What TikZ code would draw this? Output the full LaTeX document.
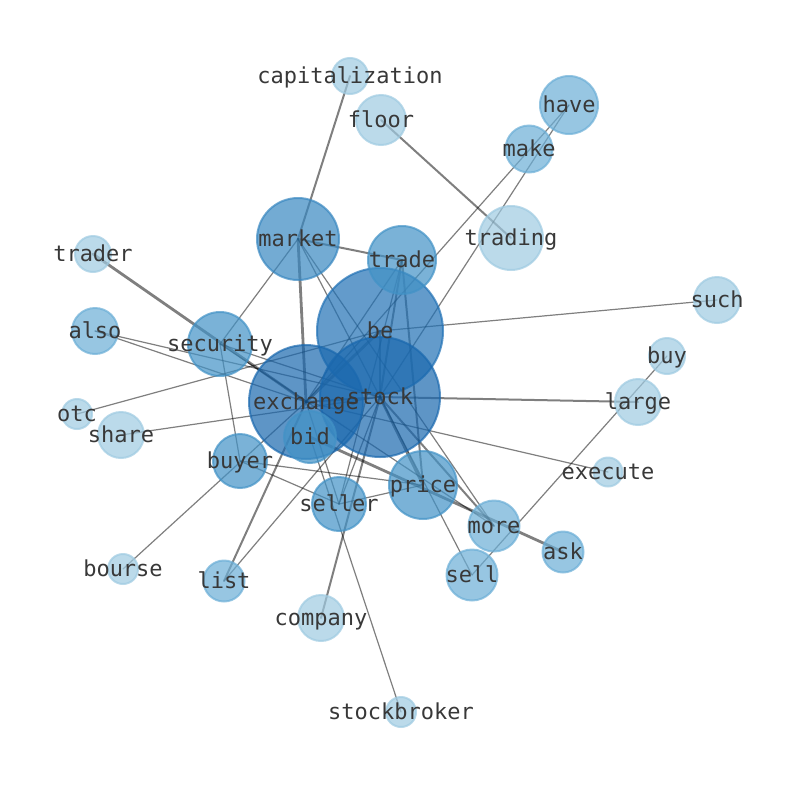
\documentclass[tikz,border=0pt]{standalone}
\usepackage{fontspec}
\newfontfamily\labelfont{DejaVu Sans Mono}
\definecolor{bLight}{HTML}{9ECAE1}
\definecolor{bMidL}{HTML}{6BAED6}
\definecolor{bMid}{HTML}{4292C6}
\definecolor{bMkt}{HTML}{3887C0}
\definecolor{bDark}{HTML}{2171B5}
\definecolor{bDeep}{HTML}{1A68AE}
\definecolor{labelgray}{HTML}{383838}
\begin{document}
\begin{tikzpicture}[x=1pt,y=-1pt,
  edge/.style={draw=black, draw opacity=0.5, line width=1.2pt, line cap=round},
  medge/.style={edge, line width=2pt},
  tedge/.style={edge, line width=2.8pt},
  vtx/.style={circle, inner sep=0pt, outer sep=0pt, fill=#1, fill opacity=0.7, draw=#1, draw opacity=0.7, line width=2pt},
  lbl/.style={font=\labelfont\fontsize{22}{26}\selectfont, text=labelgray, inner sep=0pt, text height=16.7pt, text depth=2.6pt}
]
\useasboundingbox (0,0) rectangle (794,790);
% positions
\coordinate (capitalization) at (350,76);
\coordinate (floor) at (381,120);
\coordinate (have) at (569,105);
\coordinate (make) at (529,149);
\coordinate (trading) at (511,238);
\coordinate (market) at (298,239);
\coordinate (trade) at (402,260);
\coordinate (trader) at (93,254);
\coordinate (be) at (380,331);
\coordinate (such) at (717,300);
\coordinate (also) at (95,331);
\coordinate (security) at (220,344);
\coordinate (buy) at (667,356);
\coordinate (stock) at (380,397);
\coordinate (exchange) at (306,402);
\coordinate (large) at (638,402);
\coordinate (otc) at (77,414);
\coordinate (share) at (121,435);
\coordinate (bid) at (310,437);
\coordinate (buyer) at (240,461);
\coordinate (execute) at (608,472);
\coordinate (price) at (423,485);
\coordinate (seller) at (339,504);
\coordinate (more) at (494,526);
\coordinate (ask) at (563,552);
\coordinate (bourse) at (123,569);
\coordinate (list) at (224,581);
\coordinate (sell) at (472,575);
\coordinate (company) at (321,618);
\coordinate (stockbroker) at (401,712);
% edges
\draw[medge] (capitalization) -- (market);
\draw[medge] (floor) -- (trading);
\draw[edge] (have) -- (exchange);
\draw[edge] (have) -- (stock);
\draw[medge] (market) -- (trade);
\draw[tedge] (market) -- (exchange);
\draw[edge] (market) -- (security);
\draw[edge] (market) -- (stock);
\draw[edge] (market) -- (more);
\draw[medge] (trade) -- (stock);
\draw[medge] (trade) -- (price);
\draw[edge] (trade) -- (seller);
\draw[edge] (trade) -- (exchange);
\draw[tedge] (trader) -- (exchange);
\draw[edge] (also) -- (stock);
\draw[edge] (also) -- (exchange);
\draw[edge] (otc) -- (be);
\draw[edge] (share) -- (stock);
\draw[edge] (such) -- (be);
\draw[edge] (security) -- (buyer);
\draw[edge] (security) -- (stock);
\draw[edge] (security) -- (more);
\draw[medge] (list) -- (exchange);
\draw[edge] (list) -- (stock);
\draw[edge] (bourse) -- (exchange);
\draw[edge] (buyer) -- (price);
\draw[edge] (buyer) -- (seller);
\draw[edge] (seller) -- (price);
\draw[edge] (exchange) -- (seller);
\draw[medge] (company) -- (stock);
\draw[edge] (stockbroker) -- (bid);
\draw[tedge] (bid) -- (ask);
\draw[tedge] (stock) -- (be);
\draw[tedge] (exchange) -- (be);
\draw[medge] (exchange) -- (stock);
\draw[edge] (exchange) -- (execute);
\draw[medge] (stock) -- (large);
\draw[tedge] (stock) -- (price);
\draw[medge] (stock) -- (more);
\draw[edge] (stock) -- (sell);
\draw[edge] (stock) -- (seller);
\draw[edge] (buy) -- (sell);
% vertices
\node[vtx=bDark, minimum size=126pt] (c-be) at (be) {};
\node[vtx=bDeep, minimum size=114pt] (c-exchange) at (exchange) {};
\node[vtx=bDeep, minimum size=120pt] (c-stock) at (stock) {};
\node[vtx=bLight, minimum size=36pt] (c-capitalization) at (capitalization) {};
\node[vtx=bLight, minimum size=50pt] (c-floor) at (floor) {};
\node[vtx=bMidL, minimum size=58pt] (c-have) at (have) {};
\node[vtx=bMidL, minimum size=47pt] (c-make) at (make) {};
\node[vtx=bLight, minimum size=64pt] (c-trading) at (trading) {};
\node[vtx=bMkt, minimum size=82pt] (c-market) at (market) {};
\node[vtx=bMid, minimum size=68pt] (c-trade) at (trade) {};
\node[vtx=bLight, minimum size=36pt] (c-trader) at (trader) {};
\node[vtx=bLight, minimum size=46pt] (c-such) at (such) {};
\node[vtx=bMidL, minimum size=46pt] (c-also) at (also) {};
\node[vtx=bMid, minimum size=64pt] (c-security) at (security) {};
\node[vtx=bLight, minimum size=36pt] (c-buy) at (buy) {};
\node[vtx=bLight, minimum size=46pt] (c-large) at (large) {};
\node[vtx=bLight, minimum size=30pt] (c-otc) at (otc) {};
\node[vtx=bLight, minimum size=46pt] (c-share) at (share) {};
\node[vtx=bMid, minimum size=52pt] (c-bid) at (bid) {};
\node[vtx=bMid, minimum size=54pt] (c-buyer) at (buyer) {};
\node[vtx=bLight, minimum size=29pt] (c-execute) at (execute) {};
\node[vtx=bMid, minimum size=68pt] (c-price) at (price) {};
\node[vtx=bMid, minimum size=54pt] (c-seller) at (seller) {};
\node[vtx=bMidL, minimum size=51pt] (c-more) at (more) {};
\node[vtx=bMidL, minimum size=41pt] (c-ask) at (ask) {};
\node[vtx=bLight, minimum size=30pt] (c-bourse) at (bourse) {};
\node[vtx=bMidL, minimum size=41pt] (c-list) at (list) {};
\node[vtx=bMidL, minimum size=51pt] (c-sell) at (sell) {};
\node[vtx=bLight, minimum size=46pt] (c-company) at (company) {};
\node[vtx=bLight, minimum size=30pt] (c-stockbroker) at (stockbroker) {};
% labels
\node[lbl] (t-capitalization) at (capitalization) {capitalization};
\node[lbl] (t-floor) at (floor) {floor};
\node[lbl] (t-have) at (have) {have};
\node[lbl] (t-make) at (make) {make};
\node[lbl] (t-trading) at (trading) {trading};
\node[lbl] (t-market) at (market) {market};
\node[lbl] (t-trade) at (trade) {trade};
\node[lbl] (t-trader) at (trader) {trader};
\node[lbl] (t-be) at (be) {be};
\node[lbl] (t-such) at (such) {such};
\node[lbl] (t-also) at (also) {also};
\node[lbl] (t-security) at (security) {security};
\node[lbl] (t-buy) at (buy) {buy};
\node[lbl] (t-stock) at (stock) {stock};
\node[lbl] (t-exchange) at (exchange) {exchange};
\node[lbl] (t-large) at (large) {large};
\node[lbl] (t-otc) at (otc) {otc};
\node[lbl] (t-share) at (share) {share};
\node[lbl] (t-bid) at (bid) {bid};
\node[lbl] (t-buyer) at (buyer) {buyer};
\node[lbl] (t-execute) at (execute) {execute};
\node[lbl] (t-price) at (price) {price};
\node[lbl] (t-seller) at (seller) {seller};
\node[lbl] (t-more) at (more) {more};
\node[lbl] (t-ask) at (ask) {ask};
\node[lbl] (t-bourse) at (bourse) {bourse};
\node[lbl] (t-list) at (list) {list};
\node[lbl] (t-sell) at (sell) {sell};
\node[lbl] (t-company) at (company) {company};
\node[lbl] (t-stockbroker) at (stockbroker) {stockbroker};
\end{tikzpicture}
\end{document}
